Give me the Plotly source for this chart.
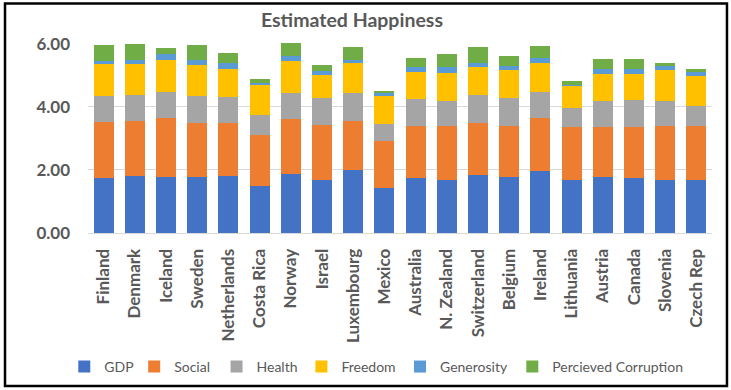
import plotly.graph_objects as go

countries = ["Finland", "Denmark", "Iceland", "Sweden", "Netherlands", "Costa Rica", "Norway",
             "Israel", "Luxembourg", "Mexico", "Australia", "N. Zealand", "Switzerland", "Belgium",
             "Ireland", "Lithuania", "Austria", "Canada", "Slovenia", "Czech Rep"]
gdp = [1.76, 1.82, 1.78, 1.78, 1.82, 1.50, 1.88, 1.68, 2.01, 1.44, 1.76, 1.68, 1.85, 1.78, 1.98, 1.68, 1.78, 1.75, 1.68, 1.68]
social = [1.77, 1.74, 1.87, 1.70, 1.66, 1.60, 1.73, 1.76, 1.55, 1.49, 1.65, 1.72, 1.63, 1.62, 1.66, 1.69, 1.59, 1.62, 1.72, 1.72]
health = [0.83, 0.83, 0.84, 0.88, 0.84, 0.66, 0.84, 0.83, 0.89, 0.54, 0.83, 0.80, 0.89, 0.87, 0.82, 0.61, 0.83, 0.86, 0.80, 0.64]
freedom = [0.99, 0.96, 0.99, 0.97, 0.88, 0.95, 1.01, 0.74, 0.94, 0.90, 0.88, 0.87, 0.90, 0.90, 0.93, 0.70, 0.84, 0.81, 0.97, 0.94]
generosity = [0.11, 0.13, 0.19, 0.15, 0.19, 0.06, 0.15, 0.13, 0.09, 0.06, 0.16, 0.19, 0.14, 0.13, 0.15, 0.03, 0.18, 0.15, 0.13, 0.13]
corruption = [0.51, 0.52, 0.19, 0.48, 0.31, 0.13, 0.41, 0.19, 0.41, 0.09, 0.27, 0.41, 0.48, 0.31, 0.39, 0.10, 0.29, 0.32, 0.11, 0.08]

series_names = ["GDP", "Social", "Health", "Freedom", "Generosity", "Percieved Corruption"]
series_values = [gdp, social, health, freedom, generosity, corruption]
series_colors = ["#4472C4", "#ED7D31", "#A5A5A5", "#FFC000", "#5B9BD5", "#70AD47"]
# legend entry positions (paper x), one legend box per series
legend_x = [-0.038, 0.074, 0.206, 0.342, 0.500, 0.680]

FONT = "Lato"
TXT = "#595959"
fig = go.Figure()
layout_legends = {}
for i, (name, vals, color) in enumerate(zip(series_names, series_values, series_colors)):
    lg = "legend" if i == 0 else f"legend{i + 1}"
    fig.add_trace(go.Bar(x=countries, y=vals, name=name, legend=lg,
                         marker=dict(color=color, line=dict(width=0))))
    layout_legends[lg] = dict(orientation="h", x=legend_x[i], xanchor="left", y=-0.705, yanchor="middle",
                              font=dict(size=14, color=TXT, family=FONT), itemwidth=30,
                              bgcolor="rgba(0,0,0,0)")

fig.update_layout(
    barmode="stack",
    bargap=0.36,
    width=731, height=390,
    margin=dict(l=88, r=19, t=43, b=157, autoexpand=False),
    paper_bgcolor="white", plot_bgcolor="white",
    font=dict(family=FONT, color=TXT),
    title=dict(text="<b>Estimated Happiness</b>", xref="container", x=0.4815, xanchor="center",
               y=0.9487, yanchor="middle", font=dict(size=19.5, color=TXT, family=FONT)),
    showlegend=True,
    xaxis=dict(tickangle=-90, tickfont=dict(size=17, color=TXT, family=FONT, weight="bold"),
               automargin=False, showline=True, linecolor="#d9d9d9", linewidth=1, ticks="",
               ticklabelstandoff=8),
    yaxis=dict(range=[0, 6.03], tickvals=[0, 2, 4, 6], tickformat=".2f", automargin=False,
               tickfont=dict(size=17, color=TXT, family=FONT, weight="bold"),
               showgrid=True, gridcolor="#d9d9d9", gridwidth=1, zeroline=False,
               ticklabelstandoff=17),
    **layout_legends,
)
fig.add_shape(type="rect", xref="paper", yref="paper", x0=-0.133, x1=1.024, y0=-0.805, y1=1.208,
              line=dict(color="black", width=2.5), fillcolor="rgba(0,0,0,0)", layer="above")
fig.write_html("out.html", config={"displayModeBar": False},
               post_script="document.body.style.margin='0px';document.body.style.overflow='hidden';")
